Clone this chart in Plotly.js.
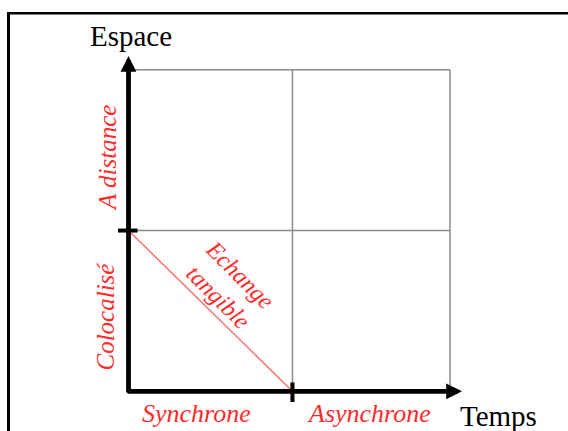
<!DOCTYPE html>
<html>
<head>
<meta charset="utf-8">
<script src="https://cdn.plot.ly/plotly-3.0.1.min.js"></script>
<style>html,body{margin:0;padding:0;background:#fff;}#chart{width:568px;height:431px;}</style>
</head>
<body>
<div id="chart"></div>
<script>
// ---- data ----
const xCategories = ["Synchrone", "Asynchrone"];
const yCategories = ["Colocalisé", "A distance"];
const xAxisTitle = "Temps";
const yAxisTitle = "Espace";
const xBoundaries = [0, 1.02, 2];   // Synchrone | Asynchrone
const yBoundaries = [0, 1, 2];      // Colocalisé | A distance
const diagonalX = [0, 1.02];
const diagonalY = [1, 0];
const diagonalLabel = ["Echange", "tangible"];

// ---- layout helpers ----
const W = 568, H = 431;
const unit = 160.75, x0px = 128.5, y0px = 391.3;
const xr = [-x0px / unit, (W - x0px) / unit];
const yr = [-(H - y0px) / unit, y0px / unit];
const dx = p => (p - x0px) / unit;
const dy = p => (y0px - p) / unit;

const red = "#ff2a2a";
const gray = "#8a8a8a";
const serif = "Liberation Serif, Times New Roman, serif";

const shapes = [];
// grid (gray)
const xMax = xBoundaries[xBoundaries.length - 1];
const yMax = yBoundaries[yBoundaries.length - 1];
xBoundaries.slice(1).forEach(v => shapes.push({type: "line", xref: "x", yref: "y", x0: v, x1: v, y0: 0, y1: yMax, line: {color: gray, width: 1.5}}));
yBoundaries.slice(1).forEach(v => shapes.push({type: "line", xref: "x", yref: "y", x0: 0, x1: xMax, y0: v, y1: v, line: {color: gray, width: 1.5}}));
// ticks on axes
shapes.push({type: "line", xref: "x", yref: "y", x0: dx(118), x1: dx(137.5), y0: yBoundaries[1], y1: yBoundaries[1], line: {color: "#000", width: 4}});
shapes.push({type: "line", xref: "x", yref: "y", x0: xBoundaries[1], x1: xBoundaries[1], y0: dy(382.5), y1: dy(402), line: {color: "#000", width: 4}});
// outer frame (left and top only)
shapes.push({type: "line", xref: "paper", yref: "paper", x0: 8.5 / W, x1: 8.5 / W, y0: 1 - 12 / H, y1: 0, line: {color: "#000", width: 3}});
shapes.push({type: "line", xref: "paper", yref: "paper", x0: 7 / W, x1: 1, y0: 1 - 13.3 / H, y1: 1 - 13.3 / H, line: {color: "#000", width: 2.5}});

const annotations = [];
// axis arrows
annotations.push({x: 0, y: dy(56), ax: 0, ay: dy(394), xref: "x", yref: "y", axref: "x", ayref: "y", text: "", showarrow: true, arrowhead: 2, arrowsize: 0.66, arrowwidth: 4.8, arrowcolor: "#000", standoff: 0});
annotations.push({x: dx(462), y: 0, ax: dx(126), ay: 0, xref: "x", yref: "y", axref: "x", ayref: "y", text: "", showarrow: true, arrowhead: 2, arrowsize: 0.66, arrowwidth: 4.8, arrowcolor: "#000", standoff: 0});
// axis titles
annotations.push({xref: "paper", yref: "paper", x: 131 / W, y: 1 - 36.3 / H, xanchor: "center", yanchor: "middle", text: yAxisTitle, showarrow: false, font: {family: serif, size: 29, color: "#000"}});
annotations.push({xref: "paper", yref: "paper", x: 498.5 / W, y: 1 - 415.5 / H, xanchor: "center", yanchor: "middle", text: xAxisTitle, showarrow: false, font: {family: serif, size: 29, color: "#000"}});
// category labels
const xLabelPx = [196, 369];
xCategories.forEach((c, i) => annotations.push({xref: "paper", yref: "paper", x: xLabelPx[i] / W, y: 1 - 413.6 / H, xanchor: "center", yanchor: "middle", text: "<i>" + c + "</i>", showarrow: false, font: {family: serif, size: 26, color: red}}));
const yLabelPx = [[105, 316.5], [107, 158]];
yCategories.forEach((c, i) => annotations.push({xref: "paper", yref: "paper", x: yLabelPx[i][0] / W, y: 1 - yLabelPx[i][1] / H, xanchor: "center", yanchor: "middle", textangle: -90, text: "<i>" + c + "</i>", showarrow: false, font: {family: serif, size: 25, color: red}}));
// diagonal label
annotations.push({xref: "paper", yref: "paper", x: 229 / W, y: 1 - 285 / H, xanchor: "center", yanchor: "middle", textangle: 45, text: "<i>" + diagonalLabel.join("<br>") + "</i>", showarrow: false, font: {family: serif, size: 24, color: red}});

const traces = [{
  x: diagonalX, y: diagonalY, type: "scatter", mode: "lines",
  line: {color: "#ff7070", width: 1.5}, hoverinfo: "skip", showlegend: false
}];

const layout = {
  width: W, height: H,
  margin: {l: 0, r: 0, t: 0, b: 0},
  paper_bgcolor: "#fff", plot_bgcolor: "#fff",
  showlegend: false,
  xaxis: {range: xr, visible: false, fixedrange: true},
  yaxis: {range: yr, visible: false, fixedrange: true},
  shapes: shapes,
  annotations: annotations
};

Plotly.newPlot("chart", traces, layout, {staticPlot: true, displayModeBar: false});
</script>
</body>
</html>
